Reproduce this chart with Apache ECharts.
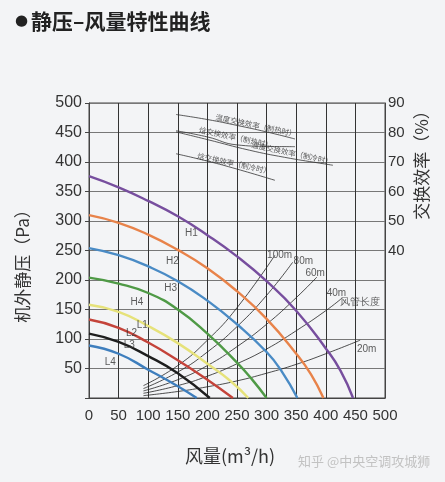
<!DOCTYPE html>
<html>
<head>
<meta charset="utf-8">
<title>静压-风量特性曲线</title>
<script src="https://cdn.jsdelivr.net/npm/echarts@6/dist/echarts.min.js"></script>
<style>
  html, body { margin: 0; padding: 0; background: #f3f4f6; }
  #main { width: 445px; height: 482px; }
</style>
</head>
<body>
<div id="main"></div>
<script>
// fan curves: airflow (m3/h) and external static pressure (Pa)
var qH1 = [0, 50, 100, 150, 200, 250, 300, 350, 400, 425, 446];
var pH1 = [376, 357, 334, 308, 276, 240, 198, 148, 84, 46, 0];
var qH2 = [0, 50, 100, 150, 200, 250, 300, 350, 375, 396];
var pH2 = [310, 297, 277, 251, 220, 181, 134, 75, 40, 0];
var qH3 = [0, 50, 100, 150, 200, 250, 300, 325, 352];
var pH3 = [254, 242, 223, 198, 165, 125, 78, 46, 0];
var qH4 = [0, 50, 100, 150, 200, 250, 275, 300];
var pH4 = [204, 194, 178, 150, 109, 60, 32, 0];
var qL1 = [0, 50, 100, 150, 200, 240, 269];
var pL1 = [158, 146, 122, 93, 58, 28, 0];
var qL2 = [0, 50, 100, 150, 200, 243];
var pL2 = [133, 119, 94, 64, 31, 0];
var qL3 = [0, 50, 100, 150, 204];
var pL3 = [109, 95, 71, 42, 0];
var qL4 = [0, 50, 100, 150, 182];
var pL4 = [89, 75, 48, 20, 0];

// duct length curves
var q100m = [92, 150, 200, 250, 314];
var p100m = [21, 55, 98, 153, 242];
var q80m = [92, 150, 200, 250, 300, 344];
var p80m = [16, 44, 78, 121, 174, 230];
var q60m = [92, 150, 200, 250, 300, 350, 385];
var p60m = [12, 31, 55, 87, 125, 170, 205];
var q40m = [92, 150, 200, 250, 300, 350, 400, 427];
var p40m = [8, 21, 37, 58, 83, 114, 148, 169];
var q20m = [92, 150, 200, 250, 300, 350, 400, 458];
var p20m = [4, 11, 19, 29, 42, 57, 75, 98];

// exchange efficiency lines (%), right axis
var qEffA = [147, 200, 250, 300, 348];
var eEffA = [86.1, 84.4, 82.4, 80.2, 77.8];
var qEffB = [147, 200, 250, 300, 348];
var eEffB = [80.6, 78.5, 75.8, 75.3, 75.2];
var qEffC = [147, 200, 271, 330, 390, 412];
var eEffC = [80.2, 77.6, 74, 71.6, 69.6, 68.9];
var qEffD = [147, 200, 250, 314];
var eEffD = [72.8, 70.3, 67.6, 63.8];

// labels
var curveNames = ['H1', 'H2', 'H3', 'H4', 'L1', 'L2', 'L3', 'L4'];
var curveColors = ['#774e9e', '#e8834a', '#4a8bc5', '#4f9a46', '#e6e27a', '#c4433a', '#1e1e1e', '#3e7ebd'];
var curveLabelQ = [173, 141, 138, 81, 90, 72, 68, 36];
var curveLabelP = [279, 232, 186, 163, 123, 110, 90, 61];

var ductNames = ['100m', '80m', '60m', '40m', '风管长度', '20m'];
var ductLabelQ = [322, 362, 382, 418, 457, 469];
var ductLabelP = [242, 232, 212, 178, 163, 83];

var effNames = ['温度交换效率（制热时）', '焓交换效率（制热时）', '温度交换效率（制冷时）', '焓交换效率（制冷时）'];
var effLabelQ = [282, 248, 343, 245];
var effLabelE = [82.4, 78.3, 73.0, 69.5];

var xTicks = [0, 50, 100, 150, 200, 250, 300, 350, 400, 450, 500];

function zip(a, b) {
    return a.map(function (v, i) { return [v, b[i]]; });
}

var mychart = echarts.init(document.getElementById('main'));

var fanQ = [qH1, qH2, qH3, qH4, qL1, qL2, qL3, qL4];
var fanP = [pH1, pH2, pH3, pH4, pL1, pL2, pL3, pL4];
var ductQ = [q100m, q80m, q60m, q40m, q20m];
var ductP = [p100m, p80m, p60m, p40m, p20m];
var effQ = [qEffA, qEffB, qEffC, qEffD];
var effE = [eEffA, eEffB, eEffC, eEffD];

var series = [];
fanQ.forEach(function (q, i) {
    series.push({
        name: curveNames[i],
        type: 'line',
        smooth: true,
        showSymbol: false,
        silent: true,
        data: zip(q, fanP[i]),
        lineStyle: { color: curveColors[i], width: 2.4 },
        z: 3
    });
});
ductQ.forEach(function (q, i) {
    series.push({
        type: 'line',
        smooth: true,
        showSymbol: false,
        silent: true,
        data: zip(q, ductP[i]),
        lineStyle: { color: '#222', width: 0.8 },
        z: 2
    });
});
effQ.forEach(function (q, i) {
    series.push({
        type: 'line',
        yAxisIndex: 1,
        smooth: true,
        showSymbol: false,
        silent: true,
        data: zip(q, effE[i]),
        lineStyle: { color: '#333', width: 0.8 },
        z: 2
    });
});

// text annotations
series.push({
    type: 'scatter',
    symbolSize: 0,
    silent: true,
    data: curveNames.map(function (n, i) { return { name: n, value: [curveLabelQ[i], curveLabelP[i]] }; }),
    label: { show: true, position: 'inside', formatter: '{b}', fontSize: 10, color: '#333', fontFamily: 'Liberation Sans' },
    z: 5
});
series.push({
    type: 'scatter',
    symbolSize: 0,
    silent: true,
    data: ductNames.map(function (n, i) { return { name: n, value: [ductLabelQ[i], ductLabelP[i]] }; }),
    label: { show: true, position: 'inside', formatter: '{b}', fontSize: 10, color: '#333', fontFamily: 'Liberation Sans' },
    z: 5
});
series.push({
    type: 'scatter',
    yAxisIndex: 1,
    symbolSize: 0,
    silent: true,
    data: effNames.map(function (n, i) { return { name: n, value: [effLabelQ[i], effLabelE[i]] }; }),
    label: { show: true, position: 'inside', formatter: '{b}', fontSize: 7.5, color: '#333', rotate: -12, fontFamily: 'Noto Sans CJK SC' },
    z: 5
});

var option = {
    backgroundColor: '#f3f4f6',
    animation: false,
    textStyle: { fontFamily: 'Liberation Sans' },
    grid: {
        left: 89, right: 60, top: 103, bottom: 84,
        show: true, borderColor: '#444', borderWidth: 1
    },
    xAxis: {
        type: 'value',
        min: 0, max: 500, interval: 50,
        axisLine: { show: true, lineStyle: { color: '#444' } },
        axisTick: { show: false },
        axisLabel: {
            fontSize: 15, color: '#333', margin: 10,
            formatter: function (v) { return xTicks.indexOf(v) >= 0 ? v : ''; }
        },
        splitLine: { show: true, lineStyle: { color: '#333', width: 1 } }
    },
    yAxis: [{
        type: 'value',
        min: 0, max: 500, interval: 50,
        axisLine: { show: true, lineStyle: { color: '#444' } },
        axisTick: { show: true, length: 4, lineStyle: { color: '#444' } },
        axisLabel: {
            fontSize: 16, color: '#333', margin: 7,
            formatter: function (v) { return v === 0 ? '' : v; }
        },
        splitLine: { show: true, lineStyle: { color: '#777', width: 1 } }
    }, {
        type: 'value',
        position: 'right',
        min: -10, max: 90, interval: 10,
        axisLine: { show: true, lineStyle: { color: '#444' } },
        axisTick: { show: false },
        axisLabel: {
            fontSize: 15, color: '#333', margin: 3,
            formatter: function (v) { return v >= 40 ? v : ''; }
        },
        splitLine: { show: false }
    }],
    graphic: [{
        type: 'text', x: 15, y: 21,
        style: {
            text: '{b|●}{t|静压–风量特性曲线}',
            verticalAlign: 'middle',
            rich: {
                b: { fontSize: 15, fill: '#222', fontFamily: 'DejaVu Sans', padding: [0, 3, 0, 0] },
                t: { fontSize: 21, fontWeight: 'bold', fill: '#222', fontFamily: 'Noto Sans CJK SC' }
            }
        }
    }, {
        type: 'text', x: 23, y: 262, rotation: Math.PI / 2,
        style: { text: '机外静压（Pa）', fontSize: 17, fill: '#333', align: 'center', verticalAlign: 'middle', fontFamily: 'Noto Sans CJK SC' }
    }, {
        type: 'text', x: 422, y: 161, rotation: Math.PI / 2,
        style: { text: '交换效率（%）', fontSize: 17, fill: '#333', align: 'center', verticalAlign: 'middle', fontFamily: 'Noto Sans CJK SC' }
    }, {
        type: 'text', x: 230, y: 456,
        style: { text: '风量(m³/h)', fontSize: 18, fill: '#333', align: 'center', verticalAlign: 'middle', fontFamily: 'Noto Sans CJK SC' }
    }, {
        type: 'text', x: 298, y: 461,
        style: { text: '知乎 @中央空调攻城狮', fontSize: 13, fill: '#c2c2c2', align: 'left', verticalAlign: 'middle', fontFamily: 'Noto Sans CJK SC' }
    }],
    series: series
};
mychart.setOption(option);
</script>
</body>
</html>
